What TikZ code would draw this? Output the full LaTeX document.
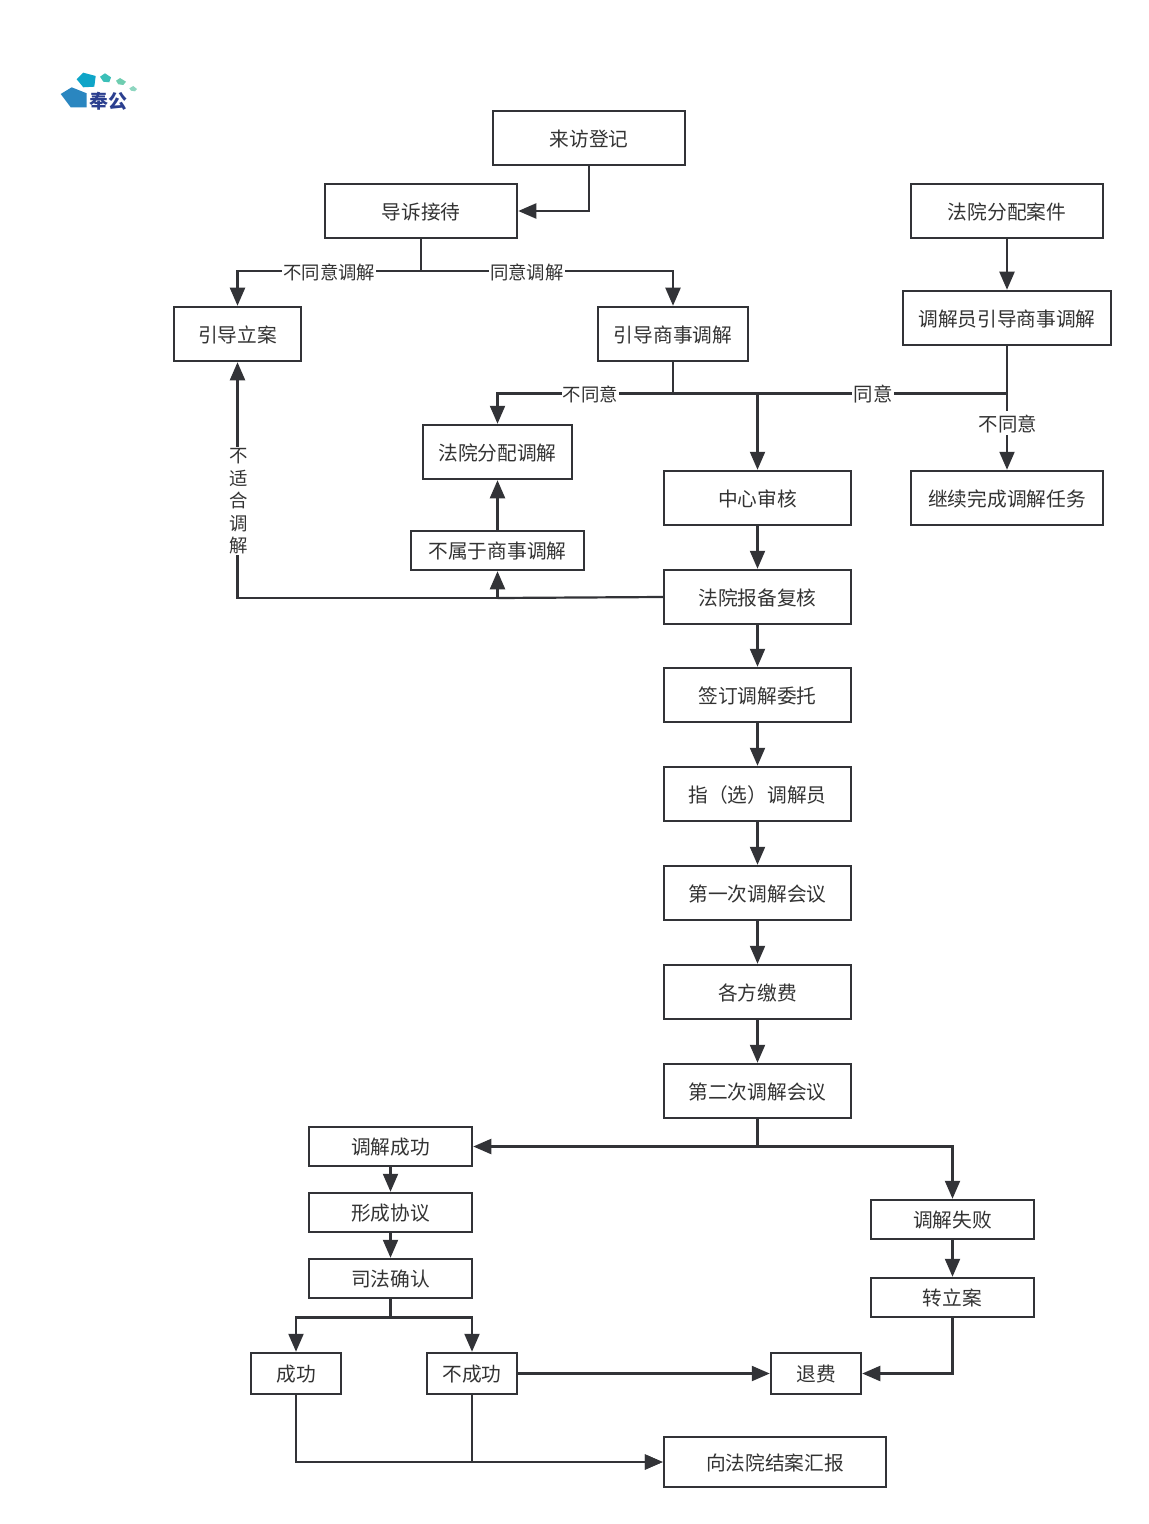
\documentclass[tikz,border=0pt]{standalone}
\usepackage{fontspec}
\usepackage{xcolor}
\usepackage{tikz}
\usetikzlibrary{calc,arrows.meta}
\setmainfont{Noto Sans CJK SC}
\definecolor{ink}{HTML}{333333}
\definecolor{edge}{HTML}{323337}
\definecolor{logoa}{HTML}{2A86C0}
\definecolor{logob}{HTML}{0EA5C8}
\definecolor{logoc}{HTML}{3BBFB8}
\definecolor{logod}{HTML}{6FCDB0}
\definecolor{logoe}{HTML}{8ED6C0}
\definecolor{logot}{HTML}{2B3F8F}
\tikzset{
  box/.style={draw=edge, line width=1.25pt, fill=white, text=ink, inner sep=0pt, text height=9.6pt, text depth=1.2pt, font=\fontsize{9.85}{12}\selectfont},
  big/.style={box, minimum width=93.5pt, minimum height=27pt},
  low/.style={box, minimum width=81.5pt, minimum height=19.5pt},
  tiny/.style={box, minimum width=45pt, minimum height=20.5pt},
  con/.style={draw=edge, line width=1.1pt},
  arr/.style={con, -{Triangle[length=9pt,width=7.5pt]}},
  lab/.style={fill=white, text=ink, inner sep=0.6pt, text height=9.6pt, text depth=1.2pt, font=\fontsize{9.2}{11}\selectfont},
  labb/.style={lab, font=\fontsize{9.7}{11}\selectfont},
  vlab/.style={fill=white, text=ink, inner sep=0.6pt, align=center, font=\fontsize{9.2}{11.2}\selectfont},
}

\begin{document}
\begin{tikzpicture}[x=0.5pt,y=-0.5pt]
  \useasboundingbox (0,0) rectangle (1148,1524);

  % logo
  \fill[logoa] (60.7,94)--(71.7,87.3)--(86.7,93.3)--(86.7,107.3)--(70.7,107.3)--cycle;
  \fill[logob] (76.7,79.3)--(83.3,72.7)--(95.7,76)--(94.3,86.7)--(83.3,87.3)--cycle;
  \fill[logoc] (100,76.7)--(105,73.3)--(111,77.3)--(109.3,82.3)--(103.3,81.7)--cycle;
  \fill[logod] (116,80.7)--(120,78)--(126,81.7)--(123.3,85)--(118.3,84.3)--cycle;
  \fill[logoe] (129.3,88.3)--(133.3,86)--(137,89)--(135,91.3)--(131,90.7)--cycle;
  \node[text=logot, inner sep=0pt, font=\fontsize{9.5}{11}\selectfont\bfseries] (logo) at (108,101) {奉公};

  % top
  \node[box, minimum width=96pt, minimum height=27pt] (visit) at (589,138) {来访登记};
  \node[box, minimum width=96pt, minimum height=27pt] (guide) at (421,211) {导诉接待};
  \node[box, minimum width=96pt, minimum height=27pt] (assign) at (1007,211) {法院分配案件};
  \node[box, minimum width=104pt, minimum height=27pt] (staff) at (1007,318) {调解员引导商事调解};
  \node[box, minimum width=63.5pt, minimum height=27pt] (file) at (237.5,334) {引导立案};
  \node[box, minimum width=75pt, minimum height=27pt] (lead) at (673,334) {引导商事调解};
  \node[box, minimum width=74.5pt, minimum height=27pt] (court) at (497.5,452) {法院分配调解};
  \node[box, minimum width=86.5pt, minimum height=19.5pt] (notbiz) at (497.5,550.5) {不属于商事调解};
  \node[box, minimum width=96pt, minimum height=27pt] (cont) at (1007,498) {继续完成调解任务};

  % centre column
  \node[big] (check) at (757.5,498) {中心审核};
  \node[big] (review) at (757.5,597) {法院报备复核};
  \node[big] (sign) at (757.5,695) {签订调解委托};
  \node[big] (pick) at (757.5,794) {指（选）调解员};
  \node[big] (first) at (757.5,893) {第一次调解会议};
  \node[big] (fee) at (757.5,992) {各方缴费};
  \node[big] (second) at (757.5,1091) {第二次调解会议};

  % bottom
  \node[low] (ok) at (390.5,1146.5) {调解成功};
  \node[low] (deal) at (390.5,1212.5) {形成协议};
  \node[low] (conf) at (390.5,1278.5) {司法确认};
  \node[low] (fail) at (952.5,1219.5) {调解失败};
  \node[low] (turn) at (952.5,1297.5) {转立案};
  \node[tiny] (yes) at (296,1373.5) {成功};
  \node[tiny] (no) at (472,1373.5) {不成功};
  \node[tiny] (back) at (816,1373.5) {退费};
  \node[box, minimum width=111pt, minimum height=25pt] (report) at (775,1462) {向法院结案汇报};

  \coordinate (sa) at (421,271);
  \coordinate (sb) at (673,393.5);
  \coordinate (sc) at (757.5,393.5);
  \coordinate (sd) at (1007,393.5);
  \coordinate (se) at (497.5,598);
  \coordinate (sf) at (757.5,1146.5);
  \coordinate (sg) at (390.5,1317.5);

  \draw[arr] (visit.south) |- (guide.east);
  \draw[con] (guide.south) -- (sa);
  \draw[arr] (sa) -| node[lab,pos=0.25] {不同意调解} (file.north);
  \draw[arr] (sa) -| node[lab,pos=0.21] {同意调解} (lead.north);
  \draw[arr] (assign.south) -- (staff.north);

  \draw[con] (lead.south) -- (sb);
  \draw[arr] (sb) -| node[lab,pos=0.235] {不同意} (court.north);
  \draw[con] (sb) -- (sc);
  \draw[arr] (sc) -- (check.north);
  \draw[con] (staff.south) -- (sd);
  \draw[con] (sd) -- node[labb,pos=0.537] {同意} (sc);
  \draw[arr] (sd) -- node[labb,pos=0.39,xshift=0.5pt] {不同意} (cont.north);

  \draw[arr] (check.south) -- (review.north);
  \draw[arr] (review.south) -- (sign.north);
  \draw[arr] (sign.south) -- (pick.north);
  \draw[arr] (pick.south) -- (first.north);
  \draw[arr] (first.south) -- (fee.north);
  \draw[arr] (fee.south) -- (second.north);

  \draw[con] (review.west) -- (se);
  \draw[arr] (se) -- (notbiz.south);
  \draw[arr] (notbiz.north) -- (court.south);
  \draw[arr] (se) -| node[vlab,pos=0.705,xshift=0.5pt] {不\\适\\合\\调\\解} (file.south);

  \draw[con] (second.south) -- (sf);
  \draw[arr] (sf) -- (ok.east);
  \draw[arr] (sf) -| (fail.north);
  \draw[arr] (ok.south) -- (deal.north);
  \draw[arr] (deal.south) -- (conf.north);
  \draw[arr] (fail.south) -- (turn.north);

  \draw[con] (conf.south) -- (sg);
  \draw[arr] (sg) -| (yes.north);
  \draw[arr] (sg) -| (no.north);
  \draw[arr] (no.east) -- (back.west);
  \draw[arr] (turn.south) |- (back.east);
  \draw[arr] (yes.south) |- (report.west);
  \draw[arr] (no.south) |- (report.west);
\end{tikzpicture}
\end{document}
